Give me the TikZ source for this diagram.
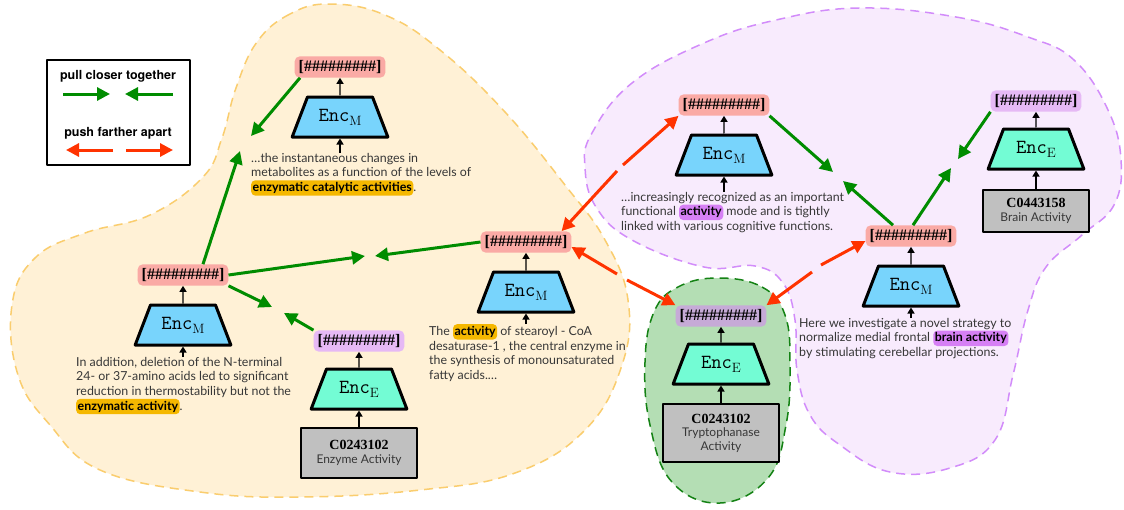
\documentclass[tikz,border=0pt]{standalone}
\usepackage{fontspec}
\setmainfont{Lato}
\newfontfamily\idfont{Liberation Serif}
\newfontfamily\legfont{TeX Gyre Heros}
\newfontfamily\lmrm{Latin Modern Roman}
\usetikzlibrary{arrows.meta}
\usetikzlibrary{shapes.geometric}

\definecolor{pullgreen}{RGB}{0,140,0}
\definecolor{pushred}{RGB}{255,51,0}
\definecolor{labpink}{RGB}{250,170,165}
\definecolor{labpurple}{RGB}{230,185,245}
\definecolor{labgreyp}{RGB}{198,170,215}
\definecolor{encblue}{RGB}{120,212,252}
\definecolor{encgreen}{RGB}{115,252,212}
\definecolor{idgrey}{RGB}{192,192,192}
\definecolor{hlorange}{RGB}{245,184,0}
\definecolor{hlpurple}{RGB}{214,128,245}
\definecolor{blobyellow}{RGB}{255,241,214}
\definecolor{blobyellowline}{RGB}{250,205,110}
\definecolor{blobpurple}{RGB}{248,235,253}
\definecolor{blobpurpleline}{RGB}{210,140,250}
\definecolor{blobgreen}{RGB}{180,222,180}
\definecolor{blobgreenline}{RGB}{20,130,20}
\definecolor{bodytext}{RGB}{55,55,55}

\newcommand\hashes{[\#\#\#\#\#\#\#\#\#]}
\newcommand\encM{{\ttfamily Enc}\raisebox{-4pt}{\lmrm\fontsize{13.5}{13.5}\selectfont M}}
\newcommand\encE{{\ttfamily Enc}\raisebox{-4pt}{\lmrm\fontsize{13.5}{13.5}\selectfont E}}
\newcommand\hlo[1]{\tikz[baseline]\node[anchor=base,fill=hlorange,rounded corners=4pt,inner xsep=1.5pt,inner ysep=2pt,text=black,font=\bfseries]{#1};}
\newcommand\hlp[1]{\tikz[baseline]\node[anchor=base,fill=hlpurple,rounded corners=4pt,inner xsep=1.5pt,inner ysep=2pt,text=black,font=\bfseries]{#1};}

\begin{document}
\begin{tikzpicture}[x=1pt,y=-1pt,line join=round,
  pull/.style={draw=pullgreen,line width=3pt,-{Triangle[length=13pt,width=13pt]}},
  push/.style={draw=pushred,line width=3pt,-{Triangle[length=13pt,width=13pt]}},
  tip/.style={line width=1.4pt,-{Triangle[length=6pt,width=7pt]}},
  labm/.style={fill=labpink,rounded corners=5pt,inner xsep=4pt,inner ysep=4pt,font=\idfont\bfseries\fontsize{16}{16}\selectfont},
  labe/.style={labm,fill=labpurple},
  enc/.style={trapezium,trapezium left angle=69,trapezium right angle=69,draw,line width=3pt,text width=61pt,align=center,text height=14pt,text depth=6pt,inner xsep=2pt,inner ysep=10pt,font=\fontsize{20}{20}\selectfont},
  encm/.style={enc,fill=encblue},
  ence/.style={enc,fill=encgreen},
  idbox/.style={draw,line width=2.5pt,fill=idgrey,minimum width=116pt,minimum height=50pt,align=center,inner sep=2pt,text=bodytext,font=\fontsize{12}{13.5}\selectfont},
  txt/.style={anchor=north west,align=left,inner sep=0pt,text=bodytext,font=\fontsize{12.4}{14.6}\selectfont},
  blob/.style={line width=1.5pt,dash pattern=on 9pt off 6pt}]
\useasboundingbox (0,0) rectangle (1124,509);
\fill[white] (0,0) rectangle (1124,509);

% regions
\draw[blob,draw=blobyellowline,fill=blobyellow] plot[smooth cycle,tension=0.7] coordinates {(330,4) (290,14) (257,42) (236,88) (222,138) (203,177) (150,215) (85,233) (35,258) (12,305) (18,375) (50,425) (100,470) (200,492) (300,497) (420,490) (515,473) (585,430) (622,365) (628,300) (605,240) (565,185) (505,112) (440,50) (385,15)};
\draw[blob,draw=blobpurpleline,fill=blobpurple] plot[smooth cycle,tension=0.7] coordinates {(859,8) (956,17) (1028,37) (1074,60) (1108,110) (1121,160) (1114,205) (1082,235) (1046,267) (1028,310) (1013,375) (995,440) (950,468) (890,472) (840,445) (810,415) (797,370) (795,320) (783,283) (755,266) (704,267) (632,240) (596,207) (585,167) (592,133) (632,83) (704,43) (776,20)};
\draw[blob,draw=blobgreenline,fill=blobgreen] plot[smooth cycle,tension=0.7] coordinates {(718,278) (762,287) (785,315) (790,365) (786,425) (768,478) (720,503) (672,482) (650,425) (645,362) (654,312) (678,287)};

% legend
\draw[line width=1.5pt] (47,60) rectangle (190,165);
\node[font=\legfont\bfseries\fontsize{12.5}{14}\selectfont] (legpull) at (118,76) {pull closer together};
\node[font=\legfont\bfseries\fontsize{12.5}{14}\selectfont] (legpush) at (118,133) {push farther apart};
\coordinate (lg1) at (63,94); \coordinate (lg2) at (110,94);
\coordinate (lg3) at (173,94); \coordinate (lg4) at (125,94);
\coordinate (lr1) at (113,150); \coordinate (lr2) at (66,150);
\coordinate (lr3) at (126,150); \coordinate (lr4) at (173,150);
\draw[pull] (lg1) -- (lg2);
\draw[pull] (lg3) -- (lg4);
\draw[push] (lr1) -- (lr2);
\draw[push] (lr3) -- (lr4);

% mention encoders
\foreach \n/\x/\y in {a/340/67,b/183/275,d/526/242,f/724/105,g/911/236}
{
\node[labm] (lab\n) at (\x,\y) {\hashes};
\node[encm] (enc\n) at (\x,\y+50) {\encM};
\draw[tip] (enc\n) -- (lab\n);
}
% entity encoders
\foreach \n/\x/\y/\c in {c/359/341/labpurple,e/721/316/labgreyp,h/1036/101/labpurple}
{
\node[labe,fill=\c] (lab\n) at (\x,\y) {\hashes};
\node[ence] (enc\n) at (\x,\y+48) {\encE};
\draw[tip] (enc\n) -- (lab\n);
}

% concept ids
\node[idbox] (idc) at (359,453) {{\idfont\bfseries\fontsize{14}{16}\selectfont\color{black}C0243102}\\Enzyme Activity};
\node[idbox,minimum height=58pt] (ide) at (721,433) {{\idfont\bfseries\fontsize{14}{16}\selectfont\color{black}C0243102}\\Tryptophanase\\Activity};
\node[idbox,minimum width=106pt,minimum height=42pt] (idh) at (1036,211) {{\idfont\bfseries\fontsize{14}{16}\selectfont\color{black}C0443158}\\Brain Activity};
\foreach \n in {c,e,h}
\draw[tip] (id\n) -- (enc\n);

% mention texts
\node[txt] (txta) at (251,153) {…the instantaneous changes in\\metabolites as a function of the levels of\\\hlo{enzymatic catalytic activities}.};
\node[txt] (txtb) at (76,357) {In addition, deletion of the N-terminal\\24- or 37-amino acids led to significant\\reduction in thermostability but not the\\\hlo{enzymatic activity}.};
\node[txt] (txtd) at (429,324) {The \hlo{activity} of stearoyl - CoA\\desaturase-1 , the central enzyme in\\the synthesis of monounsaturated\\fatty acids.…};
\node[txt] (txtf) at (621,192) {…increasingly recognized as an important\\functional \hlp{activity} mode and is tightly\\linked with various cognitive functions.};
\node[txt] (txtg) at (799,318) {Here we investigate a novel strategy to\\normalize medial frontal \hlp{brain activity}\\by stimulating cerebellar projections.};
\foreach \n in {a,b,d,f,g}
\draw[tip] (txt\n.north -| enc\n) -- (enc\n);

% pull closer
\coordinate (m1a) at (251,136); \coordinate (m1b) at (240,151);
\coordinate (m2a) at (365,256); \coordinate (m2b) at (375,256);
\coordinate (m3a) at (272,307); \coordinate (m3b) at (284,313);
\coordinate (m4a) at (833,172); \coordinate (m4b) at (843,181);
\coordinate (m5a) at (951,168); \coordinate (m5b) at (958,159);
\draw[pull] ([xshift=-40pt]laba.south) -- (m1a);
\draw[pull] ([xshift=20pt]labb.north) -- (m1b);
\draw[pull] (labb.east) -- (m2a);
\draw[pull] (labd.west) -- (m2b);
\draw[pull] (labb.south east) -- (m3a);
\draw[pull] (labc.north west) -- (m3b);
\draw[pull] (labf.south east) -- (m4a);
\draw[pull] ([xshift=-18pt]labg.north) -- (m4b);
\draw[pull] ([xshift=2pt]labg.north) -- (m5a);
\draw[pull] (labh.south west) -- (m5b);

% push apart
\coordinate (p1a) at (617,171); \coordinate (p1b) at (623,165);
\coordinate (p2a) at (617,274); \coordinate (p2b) at (627,280);
\coordinate (p3a) at (812,272); \coordinate (p3b) at (821,265);
\draw[push] (p1a) -- ([xshift=-10pt]labd.north east);
\draw[push] (p1b) -- (labf.south west);
\draw[push] (p2a) -- ([yshift=-5pt]labd.east);
\draw[push] (p2b) -- (labe.north west);
\draw[push] (p3a) -- (labe.north east);
\draw[push] (p3b) -- ([yshift=-5pt]labg.west);
\end{tikzpicture}
\end{document}
